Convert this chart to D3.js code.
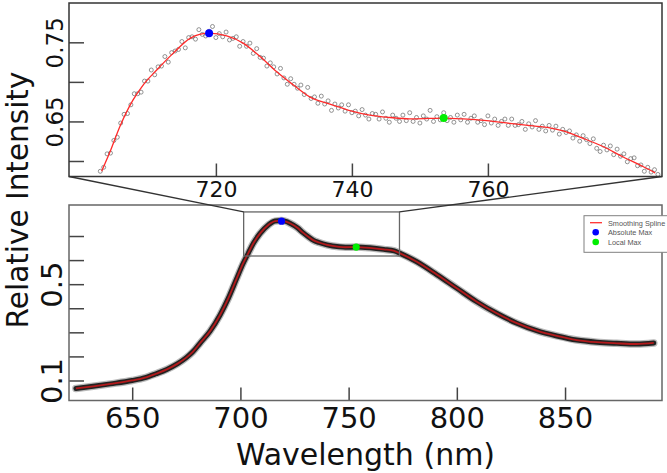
<!DOCTYPE html>
<html><head><meta charset="utf-8">
<script src="https://cdn.jsdelivr.net/npm/d3@7"></script>
<style>html,body{margin:0;padding:0;background:#fff;} svg{display:block;}</style>
</head><body>
<svg id="chart" width="667" height="473"></svg>
<script>
// ---------- DATA ----------
// Main panel: full spectrum
const mainWavelength = [624, 632, 640, 650, 656, 661, 666, 671, 675, 678, 681.3, 686, 690.6, 694.4, 698.3, 701.3, 703.6, 706, 709.1, 712.9, 716, 719, 722.9, 726.5, 728.9, 731.4, 733.8, 736.3, 740, 745.6, 748.5, 753.5, 759.8, 766.2, 771.1, 773.8, 781.5, 790.7, 800, 809.2, 818.4, 827.7, 836.9, 846.2, 855.4, 864.7, 873.9, 883.1, 891];
const mainIntensity = [0.067, 0.076, 0.086, 0.100, 0.112, 0.128, 0.146, 0.170, 0.195, 0.219, 0.2545, 0.305, 0.372, 0.441, 0.524, 0.587, 0.628, 0.670, 0.711, 0.746, 0.762, 0.764, 0.753, 0.733, 0.714, 0.697, 0.682, 0.673, 0.663, 0.655, 0.6533, 0.6542, 0.651, 0.6446, 0.638, 0.628, 0.593, 0.540, 0.483, 0.427, 0.379, 0.338, 0.307, 0.285, 0.268, 0.259, 0.2545, 0.2516, 0.256];

// Inset: smoothing spline
const insetSplineWavelength = [703.2, 704.4, 705.9, 707.8, 709.3, 711.3, 713.7, 716.2, 717.6, 719.0, 721.6, 724.0, 726.5, 728.9, 731.4, 733.8, 736.3, 738.2, 740.0, 742.6, 745.6, 748.5, 751.5, 753.5, 756.4, 759.8, 763.2, 766.2, 769.1, 771.1, 774.0, 777.0, 779.9, 782.8, 784.6];
const insetSplineIntensity = [0.587, 0.611, 0.644, 0.677, 0.696, 0.715, 0.736, 0.755, 0.760, 0.7615, 0.758, 0.749, 0.732, 0.713, 0.696, 0.681, 0.673, 0.668, 0.663, 0.658, 0.655, 0.6533, 0.6538, 0.6542, 0.6532, 0.651, 0.6476, 0.6446, 0.642, 0.638, 0.6287, 0.618, 0.605, 0.593, 0.585];

// Inset: measured points, 703 nm to 785 nm every 0.5 nm
const insetPointStart = 703, insetPointStep = 0.5;
const insetPointIntensity = [
 0.587,0.592,0.609,0.610,0.626,0.630,0.648,0.659,0.660,0.671,
 0.685,0.685,0.687,0.701,0.701,0.715,0.709,0.719,0.720,0.732,
 0.725,0.737,0.739,0.741,0.751,0.743,0.756,0.757,0.754,0.766,
 0.760,0.758,0.764,0.770,0.756,0.761,0.757,0.763,0.753,0.755,
 0.757,0.745,0.751,0.745,0.749,0.736,0.742,0.731,0.730,0.720,
 0.724,0.719,0.710,0.717,0.705,0.697,0.704,0.697,0.692,0.696,
 0.684,0.693,0.679,0.681,0.673,0.682,0.672,0.676,0.664,0.672,
 0.667,0.671,0.663,0.671,0.661,0.663,0.657,0.665,0.658,0.653,
 0.660,0.659,0.653,0.662,0.654,0.649,0.658,0.654,0.650,0.658,
 0.651,0.661,0.650,0.655,0.648,0.657,0.653,0.664,0.650,0.656,
 0.652,0.661,0.651,0.655,0.649,0.658,0.652,0.659,0.649,0.654,
 0.657,0.649,0.651,0.646,0.657,0.648,0.653,0.645,0.650,0.653,
 0.645,0.653,0.645,0.646,0.650,0.640,0.647,0.643,0.651,0.640,
 0.644,0.638,0.645,0.639,0.644,0.634,0.640,0.636,0.638,0.629,
 0.633,0.625,0.632,0.627,0.622,0.628,0.616,0.612,0.620,0.614,
 0.619,0.608,0.615,0.606,0.609,0.599,0.603,0.604,0.594,0.595,
 0.587,0.592,0.586,0.589,0.583];

const absoluteMax = {wavelength: 719.0, intensity: 0.7615};
const localMax = {wavelength: 753.5, intensity: 0.6542};

const mainXTicks = [650, 700, 750, 800, 850];
const mainYTicks = [0.1, 0.2, 0.3, 0.4, 0.5, 0.6, 0.7];
const mainYLabels = [0.1, 0.5];
const insetXTicks = [720, 740, 760];
const insetYTicks = [0.60, 0.65, 0.70, 0.75];
const insetYLabels = [0.65, 0.75];
const zoomWavelength = [701.5, 773.5];
const zoomIntensity = [0.617, 0.800];
const legendLabels = ["Smoothing Spline", "Absolute Max", "Local Max"];
const xTitle = "Wavelength (nm)";
const yTitle = "Relative Intensity";

// ---------- LAYOUT ----------
const svg = d3.select("#chart");
const FONT = "DejaVu Sans, Verdana, sans-serif";
const L = 69, R = 662;

const xMain = d3.scaleLinear().domain([620.8, 894.8]).range([L, R]);
const yMain = d3.scaleLinear().domain([0.0169, 0.8288]).range([400.5, 205]);
const xIn = d3.scaleLinear().domain([698.4, 785.6]).range([L, R]);
const yIn = d3.scaleLinear().domain([0.5804, 0.7997]).range([176.5, 3]);

svg.append("rect").attr("width", 667).attr("height", 473).attr("fill", "#fff");

// ---------- MAIN PANEL ----------
const mainPts = mainWavelength.map((w, i) => [w, mainIntensity[i]]);
const lineMain = d3.line().x(d => xMain(d[0])).y(d => yMain(d[1])).curve(d3.curveMonotoneX);
svg.append("path").attr("d", lineMain(mainPts)).attr("fill", "none")
  .attr("stroke", "#8a8a8a").attr("stroke-width", 7.5).attr("stroke-opacity", 0.6).attr("stroke-linecap", "round");
svg.append("path").attr("d", lineMain(mainPts)).attr("fill", "none")
  .attr("stroke", "#222").attr("stroke-width", 5).attr("stroke-linecap", "round");
svg.append("path").attr("d", lineMain(mainPts)).attr("fill", "none")
  .attr("stroke", "#b3191b").attr("stroke-width", 1.8);

svg.append("circle").attr("cx", xMain(absoluteMax.wavelength)).attr("cy", yMain(absoluteMax.intensity))
  .attr("r", 3.6).attr("fill", "#0000ff");
svg.append("circle").attr("cx", xMain(localMax.wavelength)).attr("cy", yMain(localMax.intensity))
  .attr("r", 3.6).attr("fill", "#00ee00");

// zoom window rectangle
svg.append("rect")
  .attr("x", xMain(zoomWavelength[0])).attr("y", yMain(zoomIntensity[1]))
  .attr("width", xMain(zoomWavelength[1]) - xMain(zoomWavelength[0]))
  .attr("height", yMain(zoomIntensity[0]) - yMain(zoomIntensity[1]))
  .attr("fill", "none").attr("stroke", "#666").attr("stroke-width", 1.3);

// axes main
const axMainX = svg.append("g").attr("transform", `translate(0,${yMain.range()[0]})`)
  .call(d3.axisBottom(xMain).tickValues(mainXTicks).tickSize(-13).tickSizeOuter(0).tickFormat(d3.format("d")));
axMainX.select(".domain").remove();
axMainX.selectAll(".tick line").attr("stroke", "#444").attr("stroke-width", 1.5);
axMainX.selectAll(".tick text").attr("y", 27.5).attr("dy", null)
  .attr("font-family", FONT).attr("font-size", 29).attr("fill", "#111");

const axMainY = svg.append("g").attr("transform", `translate(${L},0)`)
  .call(d3.axisLeft(yMain).tickValues(mainYTicks).tickSize(-15).tickSizeOuter(0)
    .tickFormat(d => mainYLabels.includes(d) ? String(d) : ""));
axMainY.select(".domain").remove();
axMainY.selectAll(".tick line").attr("stroke", "#444").attr("stroke-width", 1.5);
axMainY.selectAll(".tick text").attr("x", null).attr("dy", null).attr("text-anchor", "middle")
  .attr("transform", "translate(-7,0) rotate(-90)")
  .attr("font-family", FONT).attr("font-size", 29).attr("fill", "#111");

svg.append("rect").attr("x", L).attr("y", yMain.range()[1]).attr("width", R - L)
  .attr("height", yMain.range()[0] - yMain.range()[1])
  .attr("fill", "none").attr("stroke", "#666").attr("stroke-width", 1.5);

// legend
const lg = svg.append("g");
lg.append("rect").attr("x", 584).attr("y", 215.7).attr("width", 110).attr("height", 36.6)
  .attr("fill", "#fff").attr("stroke", "#808080").attr("stroke-width", 1);
lg.append("line").attr("x1", 590).attr("x2", 602).attr("y1", 222.7).attr("y2", 222.7)
  .attr("stroke", "#ff3030").attr("stroke-width", 1.3);
lg.append("circle").attr("cx", 595.7).attr("cy", 232.3).attr("r", 3.3).attr("fill", "#0000ff");
lg.append("circle").attr("cx", 595.7).attr("cy", 242).attr("r", 3.3).attr("fill", "#00ee00");
legendLabels.forEach((t, i) => {
  lg.append("text").attr("x", 608).attr("y", 225.5 + i * 9.7).text(t)
    .attr("font-family", "Liberation Sans, Arial, sans-serif").attr("font-size", 7.3).attr("fill", "#555");
});

// ---------- INSET PANEL ----------
// connectors
svg.append("line").attr("x1", L).attr("y1", yIn.range()[0])
  .attr("x2", xMain(zoomWavelength[0])).attr("y2", yMain(zoomIntensity[1]))
  .attr("stroke", "#333").attr("stroke-width", 1.3);
svg.append("line").attr("x1", R).attr("y1", yIn.range()[0])
  .attr("x2", xMain(zoomWavelength[1])).attr("y2", yMain(zoomIntensity[1]))
  .attr("stroke", "#333").attr("stroke-width", 1.3);

const insetPts = insetPointIntensity.map((v, i) => [insetPointStart + i * insetPointStep, v]);
svg.append("g").selectAll("circle").data(insetPts).join("circle")
  .attr("cx", d => xIn(d[0])).attr("cy", d => yIn(d[1])).attr("r", 2)
  .attr("fill", "none").attr("stroke", "#666").attr("stroke-width", 0.7);

const insetSpline = insetSplineWavelength.map((w, i) => [w, insetSplineIntensity[i]]);
const lineIn = d3.line().x(d => xIn(d[0])).y(d => yIn(d[1])).curve(d3.curveMonotoneX);
svg.append("path").attr("d", lineIn(insetSpline)).attr("fill", "none")
  .attr("stroke", "#ff2a2a").attr("stroke-width", 1.3);

svg.append("circle").attr("cx", xIn(absoluteMax.wavelength)).attr("cy", yIn(absoluteMax.intensity))
  .attr("r", 4).attr("fill", "#0000ff");
svg.append("circle").attr("cx", xIn(localMax.wavelength)).attr("cy", yIn(localMax.intensity))
  .attr("r", 4).attr("fill", "#00ee00");

const axInX = svg.append("g").attr("transform", `translate(0,${yIn.range()[0]})`)
  .call(d3.axisBottom(xIn).tickValues(insetXTicks).tickSize(-13).tickSizeOuter(0).tickFormat(d3.format("d")));
axInX.select(".domain").remove();
axInX.selectAll(".tick line").attr("stroke", "#444").attr("stroke-width", 1.5);
axInX.selectAll(".tick text").attr("y", 20.5).attr("dy", null)
  .attr("font-family", FONT).attr("font-size", 22).attr("fill", "#111");

const axInY = svg.append("g").attr("transform", `translate(${L},0)`)
  .call(d3.axisLeft(yIn).tickValues(insetYTicks).tickSize(-15).tickSizeOuter(0)
    .tickFormat(d => insetYLabels.includes(d) ? d3.format(".2f")(d) : ""));
axInY.select(".domain").remove();
axInY.selectAll(".tick line").attr("stroke", "#444").attr("stroke-width", 1.5);
axInY.selectAll(".tick text").attr("x", null).attr("dy", null).attr("text-anchor", "middle")
  .attr("transform", "translate(-6,0) rotate(-90)")
  .attr("font-family", FONT).attr("font-size", 23).attr("fill", "#111");

svg.append("rect").attr("x", L).attr("y", yIn.range()[1]).attr("width", R - L)
  .attr("height", yIn.range()[0] - yIn.range()[1])
  .attr("fill", "none").attr("stroke", "#333").attr("stroke-width", 1.5);

// ---------- TITLES ----------
svg.append("text").attr("x", (L + R) / 2).attr("y", 465).attr("text-anchor", "middle")
  .attr("font-family", FONT).attr("font-size", 30).attr("fill", "#111").text(xTitle);
svg.append("text").attr("transform", "translate(27.5,200) rotate(-90)").attr("text-anchor", "middle")
  .attr("font-family", FONT).attr("font-size", 29.5).attr("fill", "#111").text(yTitle);
</script>
</body></html>
